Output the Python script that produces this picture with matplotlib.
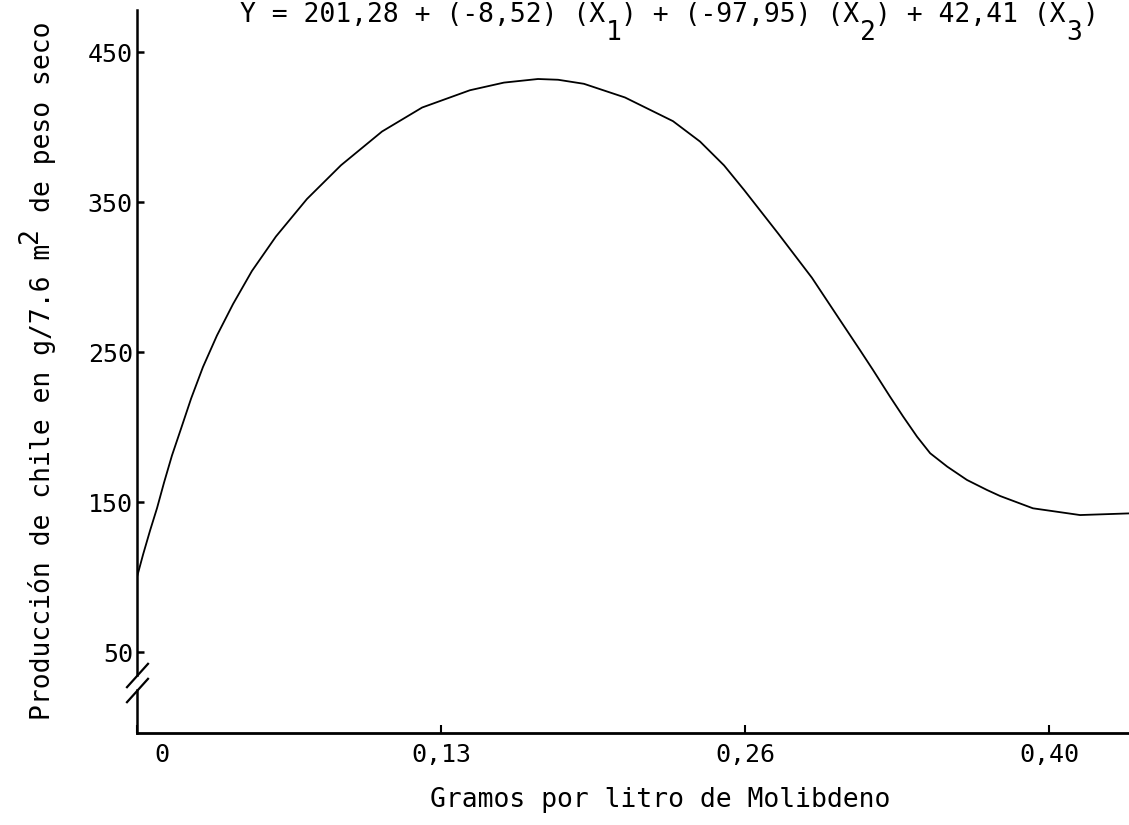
import matplotlib
matplotlib.use("Agg")
import matplotlib.pyplot as plt
from matplotlib.path import Path
from matplotlib.transforms import ScaledTranslation

# x positions are the (equally spaced) tick slots of the original drawing
tick_pos = [0, 1, 2, 3]
tick_labels = ["0", "0,13", "0,26", "0,40"]

y_ticks = [450, 350, 250, 150, 50]
y_tick_labels = ["450", "350", "250", "150", "50"]

# curve
curve_x = [0, 0.020, 0.043, 0.066, 0.089, 0.115, 0.145, 0.178, 0.217, 0.263,
           0.316, 0.378, 0.457, 0.559, 0.671, 0.806, 0.938, 1.095, 1.207,
           1.319, 1.385, 1.470, 1.605, 1.763, 1.852, 1.931, 1.997, 2.109,
           2.220, 2.309, 2.378, 2.421, 2.477, 2.520, 2.566, 2.609, 2.665,
           2.730, 2.796, 2.839, 2.947, 3.102, 3.263]
curve_y = [100, 115, 131, 146, 163, 181, 199, 219, 240, 261,
           282, 304, 327, 352, 374.5, 397, 413, 424.5, 429.6,
           432, 431.5, 428.8, 419.7, 403.9, 390.3, 374.4, 358, 329,
           299.5, 272.3, 251.3, 238, 220.2, 207, 193.5, 182.5, 173.6,
           164.7, 158, 154, 145.8, 141.3, 142.4]

# "_" marks a typewriter subscript / superscript cell
equation = "Y = 201,28 + (-8,52) (X_) + (-97,95) (X_) + 42,41 (X_)"
eq_subs = ["1", "2", "3"]
y_label = "Producción de chile en g/7.6 m_ de peso seco"
y_label_sups = ["2"]
x_label = "Gramos por litro de Molibdeno"

# y-axis break (drawn between these values)
break_lo, break_hi = 25, 35

plt.rcParams["font.family"] = ["DejaVu Sans Mono", "DejaVu Sans"]

W, H = 1129, 825
FS = 19
ADV = 0.60205 * FS / 72  # monospace advance, inches

fig = plt.figure(figsize=(W / 100, H / 100), dpi=100)
ax = fig.add_axes([137 / W, 92 / H, 992 / W, 723 / H])
ax.set_xlim(0, 3.263)
ax.set_ylim(-4, 478)

ax.plot(curve_x, curve_y, color="black", lw=1.3)

for side in ("top", "right"):
    ax.spines[side].set_visible(False)
ax.spines["left"].set_linewidth(1.8)
ax.spines["left"].set_bounds(break_hi, 478)
ax.spines["bottom"].set_linewidth(2.0)
ax.plot([0, 0], [-4, break_lo], color="black", lw=1.8, clip_on=False)

slash = Path([(-0.9, -1.0), (0.9, 1.0)], [Path.MOVETO, Path.LINETO])
ax.plot([0, 0], [break_lo, break_hi], linestyle="none", marker=slash,
        markersize=18, markeredgewidth=1.6, color="black", clip_on=False)

ax.set_xticks(tick_pos)
ax.set_xticklabels(tick_labels)
ax.set_yticks(y_ticks)
ax.set_yticklabels(y_tick_labels)
ax.tick_params(axis="x", direction="in", length=6, width=1.5, pad=7, labelsize=18)
ax.tick_params(axis="y", direction="in", length=5, width=1.8, pad=3, labelsize=18)
lab0 = ax.get_xticklabels()[0]
lab0.set_transform(lab0.get_transform() + ScaledTranslation(0.25, 0, fig.dpi_scale_trans))


def typed_text(template, marks, x, y, shift, vertical=False):
    """Lay out monospace text cell by cell; marks go half a line off the baseline."""
    marks = iter(marks)
    col = 0

    def put(s, c, off):
        lead = len(s) - len(s.lstrip(" "))
        s = s.strip(" ")
        if not s:
            return
        step = (c + lead) * ADV
        dx, dy = (off, step) if vertical else (step, off)
        fig.text(x / W, 1 - y / H, s, fontsize=FS, ha="left", va="baseline",
                 rotation=90 if vertical else 0, rotation_mode="anchor",
                 transform=fig.transFigure + ScaledTranslation(dx, dy, fig.dpi_scale_trans))

    for i, piece in enumerate(template.split("_")):
        if i > 0:
            put(next(marks), col, shift)
            col += 1
        put(piece, col, 0)
        col += len(piece)


typed_text(equation, eq_subs, 240, 22, -0.18)
typed_text(y_label, y_label_sups, 50, 720, -0.13, vertical=True)

fig.text(660 / W, 1 - 800 / H, x_label, ha="center", va="center", fontsize=FS)

fig.savefig("out.png", dpi=100, facecolor="white")
